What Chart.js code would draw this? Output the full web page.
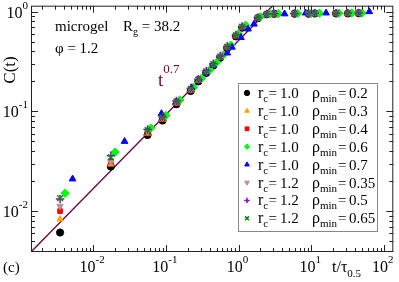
<!DOCTYPE html>
<html>
<head>
<meta charset="utf-8">
<script src="https://cdn.jsdelivr.net/npm/chart.js@4.4.1/dist/chart.umd.min.js"></script>
<style>
  html, body { margin: 0; padding: 0; background: #fff; }
  canvas { display: block; }
</style>
</head>
<body>
<canvas id="chart" width="399" height="282"></canvas>
<script>
// data (t / tau_0.5 , C(t))
const timesA = [0.0035, 0.0175, 0.056, 0.09, 0.14, 0.22, 0.28, 0.36, 0.45, 0.56, 0.70, 0.92, 1.12, 1.85, 2.45, 3.1, 5.9, 9.2, 11.2, 22, 32, 45];
const timesB = [0.0041, 0.020, 0.062, 0.10, 0.155, 0.24, 0.31, 0.40, 0.50, 0.62, 0.78, 1.0, 1.25, 2.0, 2.7, 3.5, 6.5, 10, 13, 24, 36, 50];
const timesBlue = [0.0052, 0.027, 0.087, 0.139, 0.224, 0.28, 0.36, 0.45, 0.70, 0.81, 1.08, 1.35, 1.63, 4.3, 8.4, 16, 63];

const cBlack  = [0.0061, 0.028, 0.058, 0.081, 0.118, 0.160, 0.200, 0.243, 0.288, 0.345, 0.43, 0.565, 0.69, 0.86, 0.94, 0.95, 0.955, 0.955, 0.96, 0.96, 0.96, 0.965];
const cOrange = [0.0083, 0.0295, 0.060, 0.083, 0.12, 0.163, 0.203, 0.247, 0.29, 0.35, 0.44, 0.57, 0.70, 0.865, 0.94, 0.95, 0.955, 0.96, 0.96, 0.96, 0.965, 0.965];
const cRed    = [0.0100, 0.0315, 0.061, 0.084, 0.121, 0.164, 0.205, 0.248, 0.292, 0.35, 0.44, 0.575, 0.70, 0.87, 0.945, 0.95, 0.955, 0.96, 0.96, 0.965, 0.965, 0.965];
const cGreen  = [0.0151, 0.039, 0.068, 0.091, 0.13, 0.175, 0.215, 0.26, 0.31, 0.37, 0.46, 0.60, 0.73, 0.89, 0.95, 0.955, 0.96, 0.96, 0.965, 0.965, 0.97, 0.97];
const cBlue   = [0.021, 0.050, 0.095, 0.125, 0.173, 0.21, 0.244, 0.29, 0.385, 0.44, 0.55, 0.67, 0.75, 0.95, 0.97, 0.97, 1.0];
const cBrown  = [0.0112, 0.031, 0.062, 0.085, 0.123, 0.165, 0.207, 0.25, 0.295, 0.355, 0.445, 0.58, 0.71, 0.87, 0.945, 0.955, 0.96, 0.96, 0.965, 0.965, 0.965, 0.97];
const cViolet = [0.0132, 0.036, 0.066, 0.088, 0.127, 0.17, 0.21, 0.255, 0.30, 0.36, 0.45, 0.585, 0.71, 0.875, 0.95, 0.955, 0.96, 0.96, 0.965, 0.965, 0.97, 0.97];
const cGreen4 = [0.0135, 0.0347, 0.065, 0.087, 0.126, 0.168, 0.209, 0.253, 0.298, 0.357, 0.447, 0.58, 0.71, 0.87, 0.945, 0.955, 0.96, 0.96, 0.965, 0.965, 0.965, 0.97];

// t^0.7 guide line end points
const lineT = [0.0014, 3.0];
const lineC = [0.0039, 1.16];

// legend text
const rcLabels = ['1.0', '1.0', '1.0', '1.0', '1.0', '1.2', '1.2', '1.2'];
const rhoLabels = ['0.2', '0.3', '0.4', '0.6', '0.7', '0.35', '0.5', '0.65'];

// tick labels (decades)
const xDecades = [-2, -1, 0, 1, 2];
const yDecades = [-2, -1, 0];

const serif = '"Liberation Serif", "DejaVu Serif", serif';

function pts(ts, cs) {
  return ts.map((t, i) => ({ x: t, y: cs[i] }));
}

function sym(label, ts, cs, color, style, order, extra) {
  return Object.assign({
    label: label,
    type: 'scatter',
    data: pts(ts, cs),
    pointStyle: style,
    pointRadius: 3.6,
    backgroundColor: color,
    borderColor: color,
    borderWidth: 1,
    showLine: false,
    order: order
  }, extra || {});
}

const datasets = [
  sym('a', timesA, cBlack, '#000000', 'circle', 9),
  sym('b', timesA, cOrange, '#ffa500', 'triangle', 8),
  sym('c', timesA, cRed, '#ff0000', 'rect', 7, { pointRadius: 3.3 }),
  sym('d', timesB, cGreen, '#00ff00', 'rectRot', 6, { pointRadius: 4.2 }),
  sym('e', timesBlue, cBlue, '#0000ff', 'triangle', 5, { pointRadius: 3.9 }),
  sym('f', timesA, cBrown, '#bc8f8f', 'triangle', 4, { rotation: 180 }),
  sym('g', timesA, cViolet, '#9400d3', 'cross', 3, { borderWidth: 1.5, pointRadius: 4.2 }),
  sym('h', timesA, cGreen4, '#008b00', 'crossRot', 2, { borderWidth: 1.5, pointRadius: 4 }),
  {
    label: 'fit',
    type: 'line',
    data: pts(lineT, lineC),
    borderColor: '#670748',
    borderWidth: 1.3,
    pointRadius: 0,
    fill: false,
    order: 10
  }
];

function powLabel(ctx, x, y, exp, align) {
  ctx.font = '16px ' + serif;
  const wb = ctx.measureText('10').width;
  ctx.font = '11px ' + serif;
  const ws = ctx.measureText(String(exp)).width;
  const w = wb + ws;
  const x0 = align === 'right' ? x - w : x - w / 2;
  ctx.textAlign = 'left';
  ctx.textBaseline = 'alphabetic';
  ctx.font = '16px ' + serif;
  ctx.fillText('10', x0, y);
  ctx.font = '11px ' + serif;
  ctx.fillText(String(exp), x0 + wb, y - 9);
}

// text made of pieces: [text, size, dy, x]
function richText(ctx, x, y, parts, color) {
  ctx.fillStyle = color || '#000';
  ctx.textAlign = 'left';
  ctx.textBaseline = 'alphabetic';
  let cx = x;
  parts.forEach(p => {
    if (p[3] !== undefined) cx = p[3];
    ctx.font = p[1] + 'px ' + serif;
    ctx.fillText(p[0], cx, y + (p[2] || 0));
    cx += ctx.measureText(p[0]).width;
  });
  return cx;
}

const decor = {
  id: 'decor',
  afterDraw(chart) {
    const ctx = chart.ctx;
    const a = chart.chartArea;
    const xs = chart.scales.x;
    const ys = chart.scales.y;
    ctx.save();

    // frame
    ctx.strokeStyle = '#222';
    ctx.lineWidth = 1;
    ctx.strokeRect(a.left + 0.5, a.top + 0.5, a.right - a.left - 1, a.bottom - a.top - 1);

    // inward ticks on all four sides
    ctx.beginPath();
    for (let e = -3; e <= 2; e++) {
      for (let k = 1; k <= 9; k++) {
        const v = k * Math.pow(10, e);
        const len = k === 1 ? 7 : 4;
        if (v >= xs.min && v <= xs.max) {
          const px = Math.round(xs.getPixelForValue(v)) + 0.5;
          ctx.moveTo(px, a.bottom); ctx.lineTo(px, a.bottom - len);
          ctx.moveTo(px, a.top); ctx.lineTo(px, a.top + len);
        }
        if (v >= ys.min && v <= ys.max) {
          const py = Math.round(ys.getPixelForValue(v)) + 0.5;
          ctx.moveTo(a.left, py); ctx.lineTo(a.left + len, py);
          ctx.moveTo(a.right, py); ctx.lineTo(a.right - len, py);
        }
      }
    }
    ctx.stroke();

    // tick labels
    ctx.fillStyle = '#000';
    xDecades.forEach(e => {
      powLabel(ctx, xs.getPixelForValue(Math.pow(10, e)) - 1, 272, e, 'center');
    });
    yDecades.forEach(e => {
      powLabel(ctx, 28, ys.getPixelForValue(Math.pow(10, e)) + 6, e, 'right');
    });

    // axis titles
    richText(ctx, 332, 272, [['t/τ', 16], ['0.5', 11, 5]]);
    ctx.save();
    ctx.translate(15, 70);
    ctx.rotate(-Math.PI / 2);
    ctx.font = '17px ' + serif;
    ctx.textAlign = 'center';
    ctx.fillText('C(t)', 0, 0);
    ctx.restore();
    richText(ctx, 3, 272, [['(c)', 15]]);

    // annotations
    richText(ctx, 55, 31, [['microgel', 15]]);
    richText(ctx, 123, 31, [['R', 15], ['g', 10, 4], [' = 38.2', 15]]);
    richText(ctx, 55, 53, [['φ = 1.2', 15]]);
    richText(ctx, 158, 86, [['t', 19], ['0.7', 13, -13]], '#670748');

    // legend box
    const bx = 238, by = 83, bw = 139, bh = 148;
    ctx.fillStyle = '#fff';
    ctx.fillRect(bx, by, bw, bh);
    ctx.strokeStyle = '#888';
    ctx.lineWidth = 1;
    ctx.strokeRect(bx + 0.5, by + 0.5, bw, bh);
    for (let i = 0; i < rcLabels.length; i++) {
      const ds = chart.data.datasets[i];
      const cy = 93 + i * 17.9;
      ctx.save();
      ctx.fillStyle = ds.backgroundColor;
      ctx.strokeStyle = ds.borderColor;
      ctx.lineWidth = ds.borderWidth;
      Chart.helpers.drawPoint(ctx, {
        pointStyle: ds.pointStyle,
        rotation: ds.rotation || 0,
        radius: 2.7,
        borderWidth: ds.borderWidth
      }, 247, cy);
      ctx.restore();
      richText(ctx, 258, cy + 5, [['r', 16], ['c', 11, 4], ['=', 15, 0, 268.5], [rcLabels[i], 15, 0, 280]]);
      richText(ctx, 312, cy + 5, [['ρ', 16], ['min', 11, 4], ['=', 15, 0, 338], [rhoLabels[i], 15, 0, 349]]);
    }
    ctx.restore();
  }
};

new Chart(document.getElementById('chart'), {
  data: { datasets: datasets },
  options: {
    responsive: false,
    animation: false,
    layout: { padding: { left: 0, right: 4, top: 4, bottom: 0 } },
    plugins: { legend: { display: false }, tooltip: { enabled: false } },
    scales: {
      x: {
        type: 'logarithmic',
        min: 0.001393,
        max: 134.9,
        ticks: { display: false },
        grid: { display: false },
        border: { display: false },
        afterFit: s => { s.height = 30; }
      },
      y: {
        type: 'logarithmic',
        min: 0.00389,
        max: 1.148,
        ticks: { display: false },
        grid: { display: false },
        border: { display: false },
        afterFit: s => { s.width = 31; }
      }
    }
  },
  plugins: [decor]
});
</script>
</body>
</html>
